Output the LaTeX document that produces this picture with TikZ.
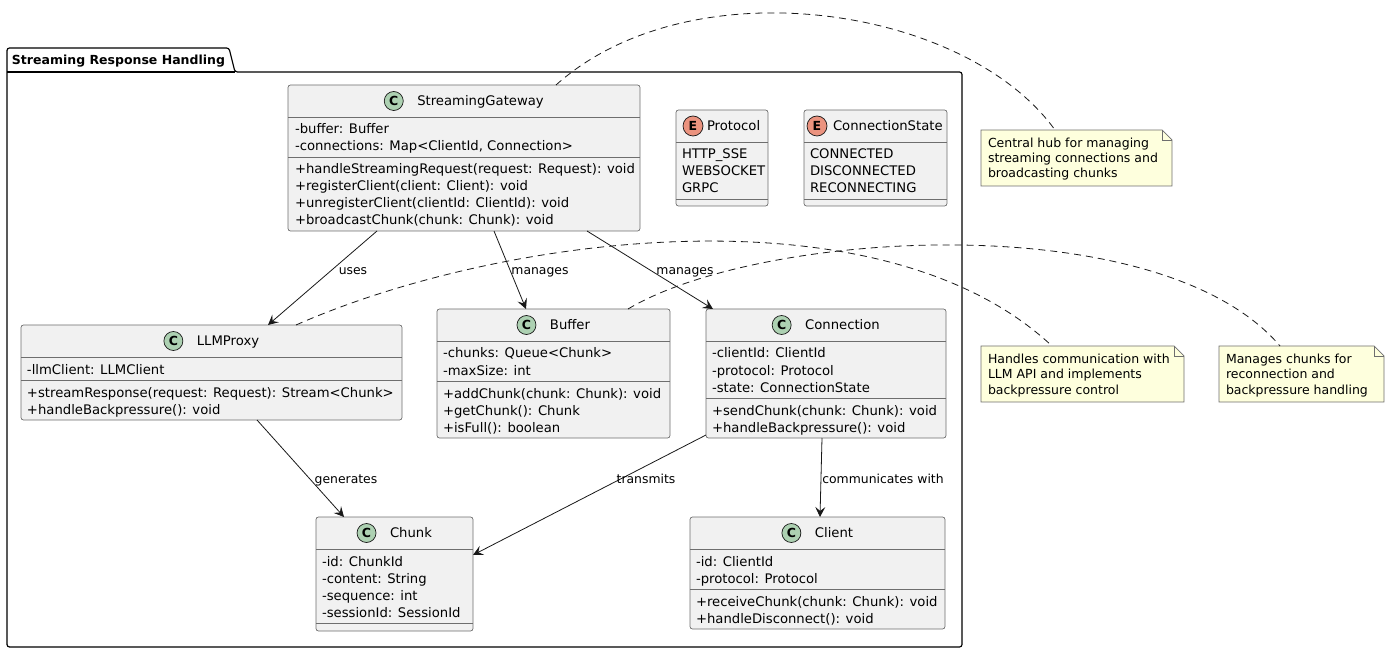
\documentclass[tikz,border=0pt]{standalone}
\usepackage{fontspec}
\setmainfont{DejaVu Sans}
\usetikzlibrary{arrows.meta,calc}
\definecolor{classbg}{HTML}{F1F1F1}
\definecolor{lineclr}{HTML}{181818}
\definecolor{boxclr}{HTML}{6E6E6E}
\definecolor{cgreen}{HTML}{ADD1B2}
\definecolor{ered}{HTML}{EB937F}
\definecolor{notebg}{HTML}{FEFFDD}
\newcommand\memline[4]{\node[mem] (#1) at (#2,#3) {#4};}
\begin{document}
\begin{tikzpicture}[x=1pt,y=-1pt,
  every node/.style={inner sep=0pt, outer sep=0pt},
  clsbox/.style={draw=boxclr, line width=0.7pt, fill=classbg, rounded corners=2.5pt, anchor=north west},
  sepline/.style={draw=boxclr, line width=0.7pt},
  mem/.style={anchor=base west, font=\fontsize{13.2}{16}\selectfont},
  cname/.style={anchor=base, font=\fontsize{13.2}{16}\selectfont},
  cicon/.style={circle, draw=lineclr, line width=0.7pt, fill=cgreen, minimum size=19pt, font=\bfseries\fontsize{12.5}{12.5}\selectfont},
  eicon/.style={cicon, fill=ered, minimum size=20pt},
  rel/.style={draw=lineclr, line width=0.8pt, -{Stealth[length=10pt,width=10pt,inset=4pt]}},
  lbl/.style={anchor=base, font=\fontsize{12.4}{14}\selectfont},
  notestyle/.style={draw=boxclr, line width=0.7pt, fill=notebg},
  notetxt/.style={anchor=base west, font=\fontsize{12.5}{15}\selectfont},
  noteline/.style={draw=lineclr, line width=0.8pt, dash pattern=on 7pt off 5pt},
  pkgline/.style={draw=black, line width=1.2pt, rounded corners=2.5pt}
]
\useasboundingbox (0,0) rectangle (1390,652);

% ---------- package ----------
\draw[pkgline] (7,72) -- (7,48) -- (229,48) -- (235,72) -- (962,72) -- (962,647) -- (7,647) -- cycle;
\draw[draw=black, line width=1.2pt] (7,72) -- (235,72);
\node[anchor=base west, font=\bfseries\fontsize{12.5}{15}\selectfont] (pkgtitle) at (12,64.5) {Streaming Response Handling};

% ---------- StreamingGateway ----------
\node[clsbox, minimum width=352pt, minimum height=146pt] (sg) at (288,85) {};
\draw[sepline] (288,117) -- (640,117);
\draw[sepline] (288,157) -- (640,157);
\node[cname] (sgn) at (480.5,105.7) {StreamingGateway};
\node[cicon] (sgi) at ([xshift=-23.5pt,yshift=4.7pt]sgn.base west) {C};
\memline{sga1}{295}{134}{-buffer: Buffer}
\memline{sga2}{295}{151}{-connections: Map<ClientId, Connection>}
\memline{sgm1}{295}{174}{+handleStreamingRequest(request: Request): void}
\memline{sgm2}{295}{191}{+registerClient(client: Client): void}
\memline{sgm3}{295}{208}{+unregisterClient(clientId: ClientId): void}
\memline{sgm4}{295}{225}{+broadcastChunk(chunk: Chunk): void}

% ---------- Protocol ----------
\node[clsbox, minimum width=92pt, minimum height=96pt] (proto) at (676,110) {};
\draw[sepline] (676,142) -- (768,142);
\draw[sepline] (676,199) -- (768,199);
\node[eicon] (protoi) at (693,126) {E};
\node[anchor=base west, font=\fontsize{13.2}{16}\selectfont] (proton) at (707,130.7) {Protocol};
\memline{pa1}{682}{159}{HTTP\_SSE}
\memline{pa2}{682}{176}{WEBSOCKET}
\memline{pa3}{682}{193}{GRPC}

% ---------- ConnectionState ----------
\node[clsbox, minimum width=143pt, minimum height=96pt] (cstate) at (804,110) {};
\draw[sepline] (804,142) -- (947,142);
\draw[sepline] (804,199) -- (947,199);
\node[eicon] (cstatei) at (817,126) {E};
\node[anchor=base west, font=\fontsize{13.2}{16}\selectfont] (cstaten) at (833,130.7) {ConnectionState};
\memline{csa1}{810}{159}{CONNECTED}
\memline{csa2}{810}{176}{DISCONNECTED}
\memline{csa3}{810}{193}{RECONNECTING}

% ---------- LLMProxy ----------
\node[clsbox, minimum width=381pt, minimum height=95pt] (llm) at (21,325) {};
\draw[sepline] (21,357) -- (402,357);
\draw[sepline] (21,380) -- (402,380);
\node[cname] (llmn) at (228,345.7) {LLMProxy};
\node[cicon] (llmi) at ([xshift=-23.5pt,yshift=4.7pt]llmn.base west) {C};
\memline{lla1}{27}{374}{-llmClient: LLMClient}
\memline{llm1}{27}{397}{+streamResponse(request: Request): Stream<Chunk>}
\memline{llm2}{27}{414}{+handleBackpressure(): void}

% ---------- Buffer ----------
\node[clsbox, minimum width=233pt, minimum height=129pt] (buf) at (437,309) {};
\draw[sepline] (437,341) -- (670,341);
\draw[sepline] (437,381) -- (670,381);
\node[cname] (bufn) at (570,329.7) {Buffer};
\node[cicon] (bufi) at ([xshift=-23.5pt,yshift=4.7pt]bufn.base west) {C};
\memline{bua1}{443}{358}{-chunks: Queue<Chunk>}
\memline{bua2}{443}{375}{-maxSize: int}
\memline{bum1}{443}{398}{+addChunk(chunk: Chunk): void}
\memline{bum2}{443}{415}{+getChunk(): Chunk}
\memline{bum3}{443}{432}{+isFull(): boolean}

% ---------- Connection ----------
\node[clsbox, minimum width=240pt, minimum height=129pt] (conn) at (706,309) {};
\draw[sepline] (706,341) -- (946,341);
\draw[sepline] (706,398) -- (946,398);
\node[cname] (connn) at (842.5,329.7) {Connection};
\node[cicon] (conni) at ([xshift=-23.5pt,yshift=4.7pt]connn.base west) {C};
\memline{coa1}{712}{358}{-clientId: ClientId}
\memline{coa2}{712}{375}{-protocol: Protocol}
\memline{coa3}{712}{392}{-state: ConnectionState}
\memline{com1}{712}{415}{+sendChunk(chunk: Chunk): void}
\memline{com2}{712}{432}{+handleBackpressure(): void}

% ---------- Chunk ----------
\node[clsbox, minimum width=157pt, minimum height=114pt] (chunk) at (316,517) {};
\draw[sepline] (316,549) -- (473,549);
\draw[sepline] (316,623) -- (473,623);
\node[cname] (chunkn) at (411,537.7) {Chunk};
\node[cicon] (chunki) at ([xshift=-23.5pt,yshift=4.7pt]chunkn.base west) {C};
\memline{cha1}{322}{566}{-id: ChunkId}
\memline{cha2}{322}{583}{-content: String}
\memline{cha3}{322}{600}{-sequence: int}
\memline{cha4}{322}{617}{-sessionId: SessionId}

% ---------- Client ----------
\node[clsbox, minimum width=255pt, minimum height=112pt] (client) at (690,517) {};
\draw[sepline] (690,549) -- (945,549);
\draw[sepline] (690,589) -- (945,589);
\node[cname] (clientn) at (834,537.7) {Client};
\node[cicon] (clienti) at ([xshift=-23.5pt,yshift=4.7pt]clientn.base west) {C};
\memline{cla1}{696}{566}{-id: ClientId}
\memline{cla2}{696}{583}{-protocol: Protocol}
\memline{clm1}{696}{606}{+receiveChunk(chunk: Chunk): void}
\memline{clm2}{696}{623}{+handleDisconnect(): void}

% ---------- notes ----------
\node[anchor=north west, minimum width=191pt, minimum height=56pt] (n1) at (981,130) {};
\node[anchor=north west, minimum width=203pt, minimum height=56pt] (n2) at (981,346) {};
\node[anchor=north west, minimum width=165pt, minimum height=56pt] (n3) at (1219,346) {};
\foreach \n in {n1,n2,n3}{
  \draw[notestyle] (\n.north west) -- ([xshift=-10pt]\n.north east) -- ([yshift=-10pt]\n.north east) -- (\n.south east) -- (\n.south west) -- cycle;
  \draw[draw=boxclr, line width=0.7pt] ([xshift=-10pt]\n.north east) |- ([yshift=-10pt]\n.north east);
}
\node[notetxt] (n1a) at (988,148) {Central hub for managing};
\node[notetxt] (n1b) at (988,163) {streaming connections and};
\node[notetxt] (n1c) at (988,178) {broadcasting chunks};
\node[notetxt] (n2a) at (988,363) {Handles communication with};
\node[notetxt] (n2b) at (988,378.5) {LLM API and implements};
\node[notetxt] (n2c) at (988,394) {backpressure control};
\node[notetxt] (n3a) at (1226,363) {Manages chunks for};
\node[notetxt] (n3b) at (1226,378.5) {reconnection and};
\node[notetxt] (n3c) at (1226,394) {backpressure handling};

% ---------- note links ----------
\draw[noteline] ($(sg.north west)+(268,0)$) .. controls (690,-35) and (965,5) .. ($(n1.north west)+(74,0)$);
\draw[noteline] ($(llm.north west)+(275,0)$) .. controls (500,235) and (880,185) .. ($(n2.north west)+(71,0)$);
\draw[noteline] ($(buf.north west)+(191,0)$) .. controls (760,230) and (1160,205) .. ($(n3.north west)+(61,0)$);

% ---------- relations ----------
\draw[rel] ($(sg.south west)+(89,0)$) -- ($(llm.north west)+(247,0)$);
\draw[rel] ($(sg.south west)+(206,0)$) -- ($(buf.north west)+(89,0)$);
\draw[rel] ($(sg.south west)+(299,0)$) -- ($(conn.north west)+(7,0)$);
\draw[rel] ($(llm.south west)+(236,0)$) -- ($(chunk.north west)+(28,0)$);
\draw[rel] ($(conn.north west)+(0,126)$) -- ($(chunk.north east)+(0,38)$);
\draw[rel] ($(conn.south west)+(116,0)$) -- ($(client.north west)+(130,0)$);

\node[lbl] (l1) at (353,275) {uses};
\node[lbl] (l2) at (540,275) {manages};
\node[lbl] (l3) at (685,275) {manages};
\node[lbl] (l4) at (346,483) {generates};
\node[lbl] (l5) at (646,483) {transmits};
\node[lbl] (l6) at (883,483) {communicates with};
\end{tikzpicture}
\end{document}
